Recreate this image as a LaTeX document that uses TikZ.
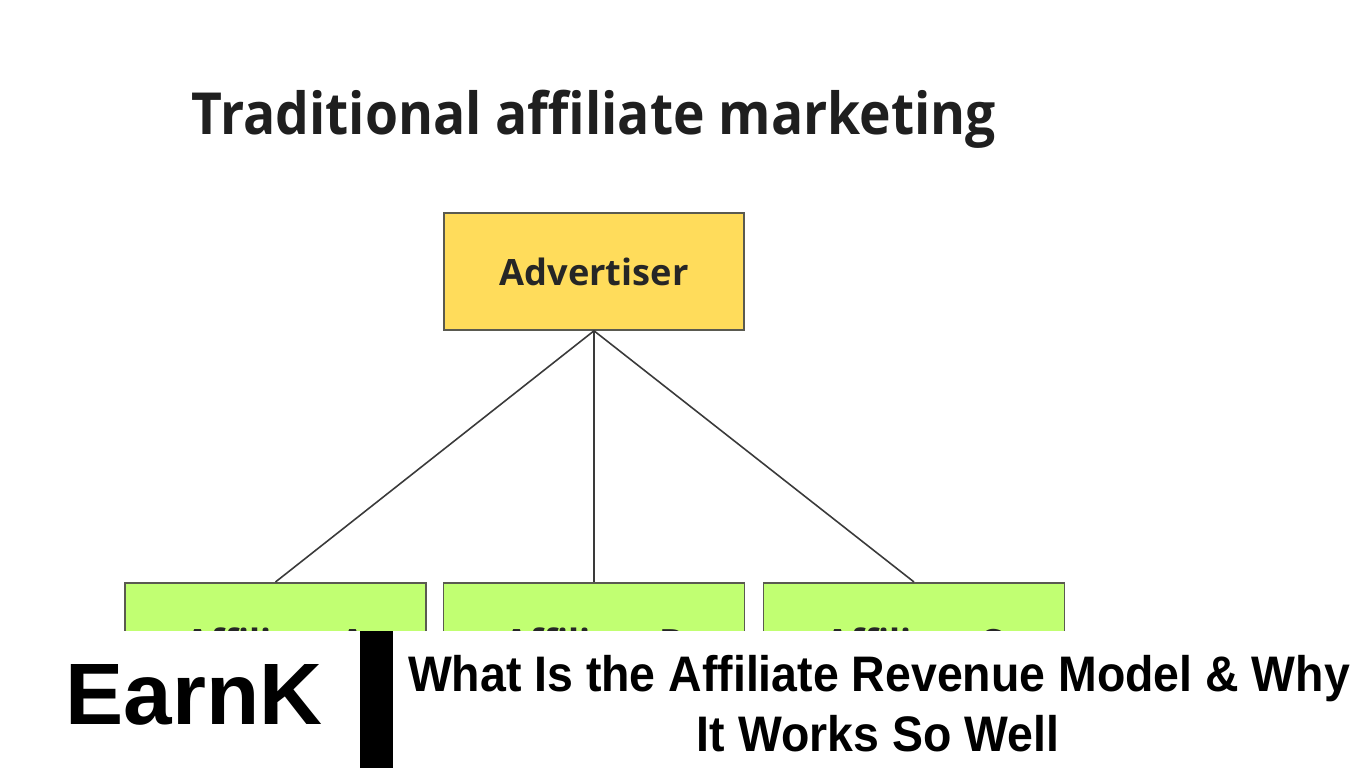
\documentclass[tikz,border=0pt]{standalone}
\usepackage{fontspec}
\setmainfont{Open Sans}
\newfontfamily\titlefont[FakeStretch=0.92]{Open Sans}
\newfontfamily\brandfont{Liberation Sans}
\newfontfamily\headfont[FakeStretch=0.93]{Liberation Sans}
\usetikzlibrary{positioning}
\definecolor{advyellow}{HTML}{FFDC5B}
\definecolor{affgreen}{HTML}{C1FF72}
\definecolor{boxedge}{HTML}{5A5A50}
\definecolor{linkgray}{HTML}{3A3A3A}
\tikzset{
  advbox/.style={draw=boxedge, line width=0.45pt, fill=advyellow, minimum width=3cm, minimum height=1.17cm,
    font=\fontsize{10.3}{12}\selectfont\bfseries, text=black!85},
  affbox/.style={draw=boxedge, line width=0.45pt, fill=affgreen, minimum width=3.01cm, minimum height=1.18cm,
    font=\fontsize{10.3}{12}\selectfont\bfseries, text=black!85, anchor=north},
  link/.style={draw=linkgray, line width=0.45pt}
}

\begin{document}
\begin{tikzpicture}[x=0.01cm, y=-0.01cm]
\useasboundingbox (0,0) rectangle (1366,768);
\fill[white] (0,0) rectangle (1366,768);
% Title
\node[anchor=base, font=\titlefont\fontsize{16.5}{20}\selectfont\bfseries, text=black!88] (title) at (594,135) {Traditional affiliate marketing};
% Advertiser
\node[advbox] (adv) at (594,271.5) {Advertiser};
% Affiliates
\node[affbox] (affA) at (275.5,582) {Affiliate A};
\node[affbox] (affB) at (594,582) {Affiliate B};
\node[affbox] (affC) at (914,582) {Affiliate C};
% Links
\draw[link] (adv.south) -- (affA.north);
\draw[link] (adv.south) -- (affB.north);
\draw[link] (adv.south) -- (affC.north);
% Banner
\fill[white] (0,631) rectangle (1366,768);
\fill[black] (360,631) rectangle (393,768);
\node[anchor=base, font=\brandfont\fontsize{24.8}{30}\selectfont\bfseries] (brand) at (194,725) {EarnK};
\node[anchor=base, font=\headfont\fontsize{14.2}{17}\selectfont\bfseries] (head1) at (879,692) {What Is the Affiliate Revenue Model \& Why};
\node[anchor=base, font=\headfont\fontsize{14.2}{17}\selectfont\bfseries] (head2) at (878,752) {It Works So Well};
\end{tikzpicture}
\end{document}
